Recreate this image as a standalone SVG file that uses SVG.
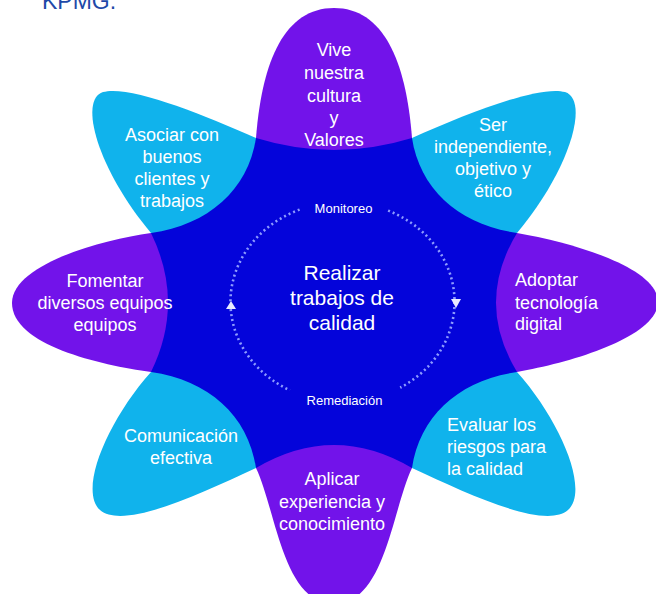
<svg xmlns="http://www.w3.org/2000/svg" width="656" height="594" viewBox="0 0 656 594">
<style>
.pu{fill:#7213EA}
.lb{fill:#10B3EC}
.t{font-family:"Liberation Sans",Arial,sans-serif;font-size:18px;fill:#FFFFFF}
.c{text-anchor:middle}
.big{font-size:21px}
.small{font-family:"Liberation Sans",Arial,sans-serif;font-size:13px;fill:#FFFFFF;text-anchor:middle}
.dots{fill:none;stroke:#8E9CFF;stroke-width:2.6;stroke-dasharray:2 3}
</style>
<rect width="656" height="594" fill="#FFFFFF"/>
<text x="42" y="9" font-family="Liberation Sans,Arial,sans-serif" font-size="23" fill="#1E49A8">KPMG.</text>
<g id="center">
<polygon points="256,138 412,138 517,233 517,372 412,468 256,468 151,372 151,233" fill="#0404DA"/>
</g>
<g id="petal-top">
<path class="pu" d="M256,138 C262,60 285,8 334,8 C383,8 406,60 412,138 Q334,162 256,138 Z"/>
<text class="t c" x="334" y="56">Vive</text>
<text class="t c" x="334" y="79">nuestra</text>
<text class="t c" x="334" y="102">cultura</text>
<text class="t c" x="334" y="124">y</text>
<text class="t c" x="334" y="146">Valores</text>
</g>
<g id="petal-tr">
<path class="lb" d="M412,138 C470,112 540,85 565,92 C590,100 570,170 517,233 C460,225 420,190 412,138 Z"/>
<text class="t c" x="493" y="131">Ser</text>
<text class="t c" x="493" y="153">independiente,</text>
<text class="t c" x="493" y="175">objetivo y</text>
<text class="t c" x="493" y="197">ético</text>
</g>
<g id="petal-right">
<path class="pu" d="M517,233 C575,243 658,268 658,302 C658,336 575,362 517,372 Q475,302.5 517,233 Z"/>
<text class="t" x="515" y="286">Adoptar</text>
<text class="t" x="515" y="309">tecnología</text>
<text class="t" x="515" y="330">digital</text>
</g>
<g id="petal-br">
<path class="lb" d="M517,372 C560,420 590,490 568,510 C545,530 470,495 412,468 C420,415 460,380 517,372 Z"/>
<text class="t" x="447" y="431">Evaluar los</text>
<text class="t" x="447" y="453">riesgos para</text>
<text class="t" x="447" y="475">la calidad</text>
</g>
<g id="petal-bottom">
<path class="pu" d="M256,468 C276,510 283,604 334,604 C385,604 392,510 412,468 Q334,422 256,468 Z"/>
<text class="t c" x="332" y="485">Aplicar</text>
<text class="t c" x="332" y="508">experiencia y</text>
<text class="t c" x="332" y="530">conocimiento</text>
</g>
<g id="petal-bl">
<path class="lb" d="M151,372 C108,420 78,490 100,510 C123,530 198,495 256,468 C248,415 208,380 151,372 Z"/>
<text class="t c" x="181" y="442">Comunicación</text>
<text class="t c" x="181" y="464">efectiva</text>
</g>
<g id="petal-left">
<path class="pu" d="M151,233 C100,240 12,265 12,303 C12,345 100,365 151,372 Q185,302.5 151,233 Z"/>
<text class="t c" x="105" y="287">Fomentar</text>
<text class="t c" x="105" y="309">diversos equipos</text>
<text class="t c" x="105" y="331">equipos</text>
</g>
<g id="petal-tl">
<path class="lb" d="M256,138 C198,112 128,85 103,92 C78,100 98,170 151,233 C208,225 248,190 256,138 Z"/>
<text class="t c" x="172" y="141">Asociar con</text>
<text class="t c" x="172" y="163">buenos</text>
<text class="t c" x="172" y="185">clientes y</text>
<text class="t c" x="172" y="207">trabajos</text>
</g>
<g id="cycle">
<g id="connectors">
<path class="dots" d="M299.6,209.6 A112,100 0 0 0 289.9,390.3"/>
<path class="dots" d="M388.1,210.6 A112,100 0 0 1 400.2,387.7"/>
<polygon points="231,301 236,309 226,309" fill="#E8EAFF"/>
<polygon points="451,299 461,299 456,308" fill="#E8EAFF"/>
</g>
<text class="small" x="343.5" y="213">Monitoreo</text>
<text class="small" x="344.5" y="405">Remediación</text>
<text class="t c big" x="342" y="280">Realizar</text>
<text class="t c big" x="342" y="305">trabajos de</text>
<text class="t c big" x="342" y="330">calidad</text>
</g>
</svg>
